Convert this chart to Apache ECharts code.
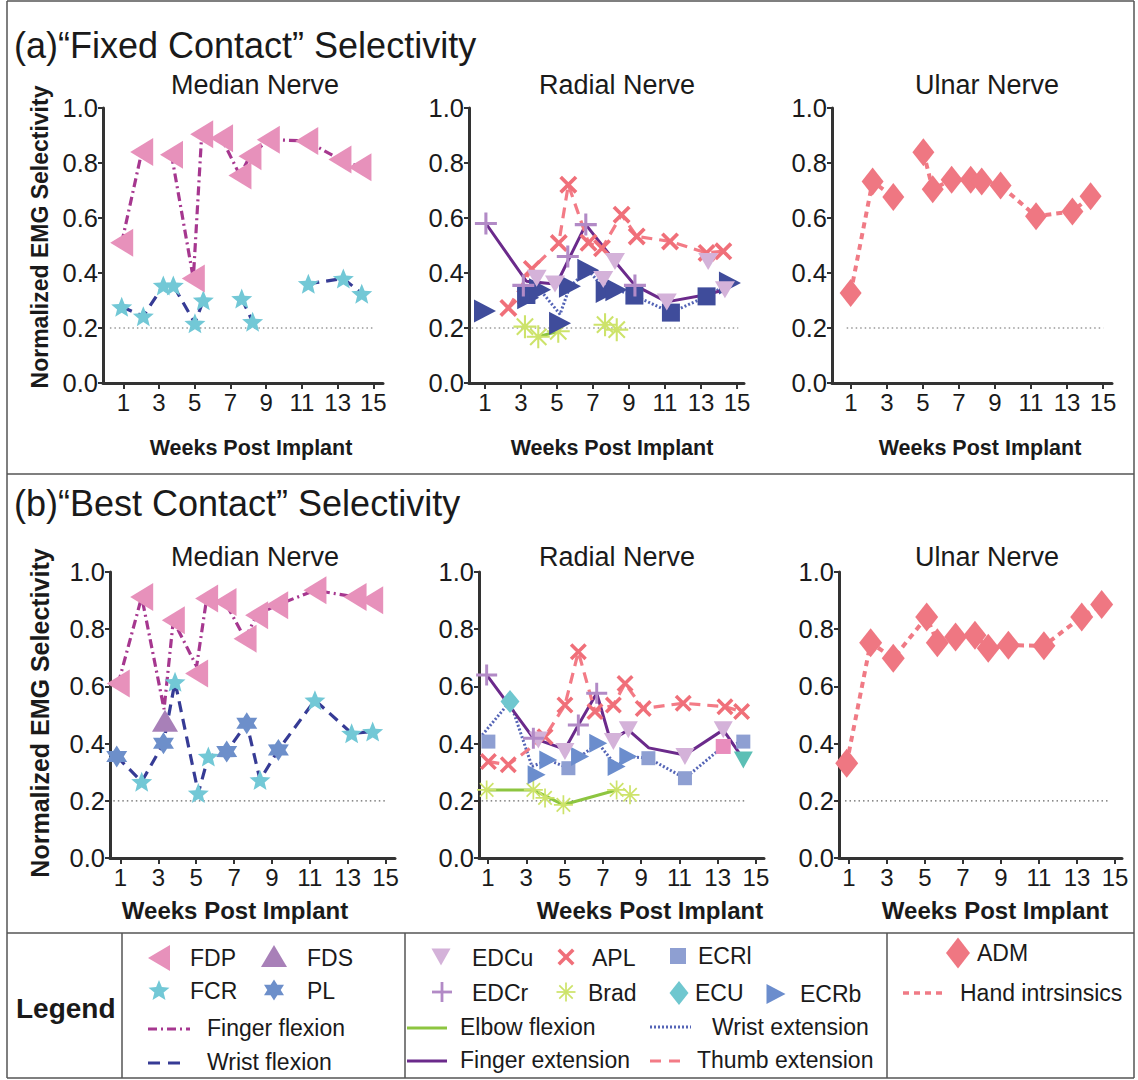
<!DOCTYPE html>
<html><head><meta charset="utf-8">
<script src="https://cdn.jsdelivr.net/npm/echarts@6/dist/echarts.min.js"></script>
<style>html,body{margin:0;padding:0;background:#fff}#c{width:1138px;height:1080px}</style>
</head><body><div id="c"></div>
<script>
// ---------- tick labels ----------
const X_TICKS = [1, 3, 5, 7, 9, 11, 13, 15];
const THRESHOLD = 0.2;

// ---------- (a) Fixed contact : Median ----------
const A_MED_FDP = [[0.91,0.51],[2.03,0.84],[3.7,0.83],[4.92,0.38],[5.39,0.905],[6.5,0.89],[7.53,0.755],[8.09,0.825],[9.12,0.885],[11.27,0.88],[13.13,0.813],[14.25,0.785]];
const A_MED_FCR = [[0.91,0.277],[2.12,0.243],[3.24,0.355],[3.8,0.355],[5.01,0.217],[5.48,0.301],[7.63,0.307],[8.24,0.223],[11.36,0.361],[13.32,0.38],[14.35,0.325]];
const A_MED_FINGER_FLEX = [[0.91,0.51],[2.03,0.84],[2.9,null],[3.7,0.83],[4.92,0.38],[5.39,0.905],[6.5,0.89],[7.53,0.755],[8.09,0.825],[9.12,0.885],[11.27,0.88],[13.13,0.813],[14.25,0.785]];
const A_MED_WRIST_FLEX = [[0.91,0.277],[2.12,0.243],[3.24,0.355],[3.8,0.355],[5.01,0.217],[5.48,0.301],[6.5,null],[7.63,0.307],[8.24,0.223],[10,null],[11.36,0.361],[13.32,0.38],[14.35,0.325]];

// ---------- (a) Fixed contact : Radial ----------
const A_RAD_EDCR = [[1.05,0.58],[3.13,0.355],[5.6,0.46],[6.6,0.576],[9.33,0.355]];
const A_RAD_EDCU = [[3.87,0.381],[4.89,0.36],[7.57,0.376],[8.22,0.442],[11.1,0.295],[13.4,0.442],[14.33,0.339]];
const A_RAD_APL  = [[2.3,0.273],[3.6,0.415],[5.1,0.509],[5.63,0.721],[6.75,0.51],[7.5,0.49],[8.59,0.612],[9.43,0.533],[11.28,0.515],[13.31,0.473],[14.24,0.479]];
const A_RAD_ECRB = [[1.0,0.262],[3.4,0.31],[4.06,0.339],[5.17,0.217],[5.72,0.352],[6.74,0.41],[7.76,0.333],[8.3,0.339],[14.61,0.364]];
const A_RAD_ECRL = [[3.3,0.32],[9.3,0.318],[11.33,0.256],[13.31,0.315]];
const A_RAD_BRAD = [[3.22,0.205],[3.96,0.168],[5.07,0.188],[7.67,0.212],[8.32,0.194]];
const A_RAD_FINGER_EXT = [[1.05,0.58],[3.3,0.37],[4.89,0.36],[5.2,0.39],[6.6,0.576],[8.22,0.442],[9.33,0.355],[11.1,0.295],[13.2,0.32],[14.33,0.339]];
const A_RAD_WRIST_EXT = [[3.4,0.31],[4.06,0.339],[5.17,0.25],[5.72,0.352],[6.74,0.41],[7.76,0.333],[8.3,0.339],[9.3,0.318],[11.33,0.256],[13.31,0.315],[14.61,0.364]];
const A_RAD_ELBOW_FLEX = [[3.96,0.168],[5.07,0.188]];
const A_RAD_THUMB_EXT = A_RAD_APL;

// ---------- (a) Fixed contact : Ulnar ----------
const A_ULN_ADM = [[0.98,0.327],[2.2,0.733],[3.35,0.676],[5.02,0.839],[5.54,0.705],[6.59,0.739],[7.65,0.739],[8.26,0.733],[9.31,0.718],[11.28,0.606],[13.3,0.624],[14.31,0.679]];
const A_ULN_HAND = [[0.98,0.327],[2.2,0.733],[3.35,0.676],[4.2,null],[5.02,0.839],[5.54,0.705],[6.59,0.739],[7.65,0.739],[8.26,0.733],[9.31,0.718],[11.28,0.606],[13.3,0.624],[14.31,0.679]];

// ---------- (b) Best contact : Median ----------
const B_MED_FDP = [[0.88,0.61],[2.12,0.913],[3.79,0.831],[5.02,0.645],[5.55,0.907],[6.52,0.895],[7.58,0.767],[8.19,0.849],[9.25,0.884],[11.27,0.936],[13.39,0.913],[14.27,0.901]];
const B_MED_FDS = [[3.35,0.48]];
const B_MED_FCR = [[2.12,0.267],[3.88,0.616],[5.11,0.227],[5.64,0.355],[8.37,0.273],[11.27,0.552],[13.21,0.436],[14.32,0.442]];
const B_MED_PL  = [[0.8,0.355],[3.27,0.401],[6.61,0.372],[7.67,0.471],[9.34,0.378]];
const B_MED_FINGER_FLEX = [[0.88,0.61],[2.12,0.913],[3.3,0.52],[3.79,0.831],[5.02,0.67],[5.55,0.907],[6.52,0.895],[7.58,0.767],[8.19,0.849],[9.25,0.884],[11.27,0.936],[13.39,0.913],[14.27,0.901]];
const B_MED_WRIST_FLEX = [[0.8,0.355],[2.12,0.267],[3.27,0.401],[3.88,0.616],[5.11,0.227],[5.64,0.355],[6.61,0.372],[7.67,0.471],[8.37,0.273],[9.34,0.378],[11.27,0.552],[13.21,0.436],[14.32,0.442]];

// ---------- (b) Best contact : Radial ----------
const B_RAD_EDCR = [[0.93,0.64],[3.37,0.419],[5.72,0.465],[6.68,0.576]];
const B_RAD_EDCU = [[3.63,0.413],[5.02,0.372],[7.55,0.407],[8.33,0.448],[11.29,0.355],[13.29,0.448]];
const B_RAD_APL  = [[1.02,0.337],[2.06,0.326],[3.98,0.424],[5.02,0.535],[5.72,0.721],[6.59,0.512],[7.55,0.535],[8.16,0.61],[9.11,0.523],[11.2,0.541],[13.38,0.529],[14.25,0.512]];
const B_RAD_ECRL = [[1.02,0.407],[5.2,0.314],[9.38,0.349],[11.29,0.279],[14.34,0.407]];
const B_RAD_ECRB = [[3.54,0.291],[4.15,0.343],[5.81,0.355],[6.76,0.401],[7.72,0.32],[8.33,0.355]];
const B_RAD_ECU  = [[2.15,0.547]];
const B_RAD_BRAD = [[0.93,0.238],[3.37,0.238],[3.98,0.21],[4.94,0.186],[7.72,0.238],[8.42,0.221]];
const B_RAD_TEAL_TRI = [[14.34,0.343]];
const B_RAD_PINK_SQ  = [[13.29,0.39]];
const B_RAD_ELBOW_FLEX = [[0.93,0.238],[3.37,0.238],[4.94,0.186],[7.72,0.238]];
const B_RAD_FINGER_EXT = [[0.93,0.64],[3.37,0.419],[5.02,0.38],[5.72,0.465],[6.68,0.576],[7.4,0.41],[8.33,0.448],[9.4,0.385],[11.29,0.36],[13.29,0.448],[14.2,0.36]];
const B_RAD_WRIST_EXT = [[0.7,0.43],[2.15,0.547],[3.3,0.32],[4.15,0.343],[5.2,0.314],[5.81,0.355],[6.76,0.401],[7.72,0.32],[8.33,0.355],[9.38,0.349],[11.29,0.279],[13.29,0.39],[14.34,0.407]];
const B_RAD_THUMB_EXT = B_RAD_APL;

// ---------- (b) Best contact : Ulnar ----------
const B_ULN_ADM = [[0.88,0.331],[2.14,0.753],[3.33,0.698],[5.09,0.843],[5.65,0.753],[6.61,0.773],[7.63,0.779],[8.33,0.733],[9.39,0.744],[11.26,0.742],[13.25,0.843],[14.3,0.886]];
const B_ULN_HAND = B_ULN_ADM;

// ---------- styling ----------
const FONT = "'Liberation Sans', Arial, Helvetica, sans-serif";
const C = {
  FDP:'#e791bb', FINGER_FLEX:'#a6378f', FCR:'#72c8d6', PL:'#6d8fca', WRIST_FLEX:'#363b95', FDS:'#a880b8',
  EDCU:'#d4b2d9', EDCR:'#b28ac6', APL:'#f06f79', ECRL:'#8e9fd2', ECRB:'#6b8dcd', ECR_DARK:'#3f4c9b',
  BRAD:'#cde36a', ECU:'#6fc7cf', ELBOW:'#8dc540', FINGER_EXT:'#6b2a8b', WRIST_EXT:'#5464b6', THUMB:'#f37b86',
  ADM:'#ef7782', HAND:'#f07a85', TEAL:'#5cbfb5', PINK:'#e98cbc'
};

// shapes as lists of polygons in a 0..100 box
function starPts(n, ro, ri){
  const pts = [];
  for (let k = 0; k < 2*n; k++){ const r = k % 2 ? ri : ro; const a = -Math.PI/2 + k*Math.PI/n; pts.push([50 + r*Math.cos(a), 50 + r*Math.sin(a)]); }
  return pts;
}
function bars(anglesDeg, R, t){
  return anglesDeg.map(deg => {
    const a = deg*Math.PI/180, dx = Math.cos(a), dy = Math.sin(a), nx = -dy, ny = dx;
    return [[50+R*dx+t*nx,50+R*dy+t*ny],[50+R*dx-t*nx,50+R*dy-t*ny],[50-R*dx-t*nx,50-R*dy-t*ny],[50-R*dx+t*nx,50-R*dy+t*ny]];
  });
}
const SHAPES = {
  LEFT:[[[0,50],[100,0],[100,100]]], RIGHT:[[[100,50],[0,0],[0,100]]], DOWN:[[[0,0],[100,0],[50,100]]], UP:[[[50,0],[100,100],[0,100]]],
  DIAMOND:[[[50,0],[100,50],[50,100],[0,50]]], SQUARE:[[[0,0],[100,0],[100,100],[0,100]]],
  STAR5:[starPts(5, 50, 22)], STAR6:[starPts(6, 50, 29)],
  PLUS:bars([0,90], 50, 7), CROSS:bars([45,135], 50, 8.5), AST:bars([0,45,90,135], 50, 4.5)
};
function bbox(key){
  let x0=1e9,y0=1e9,x1=-1e9,y1=-1e9;
  SHAPES[key].forEach(poly => poly.forEach(([x,y]) => { x0=Math.min(x0,x); y0=Math.min(y0,y); x1=Math.max(x1,x); y1=Math.max(y1,y); }));
  return [x0,y0,x1,y1];
}
const sym = k => 'path://' + SHAPES[k].map(poly => 'M' + poly.map(p => p[0].toFixed(2)+','+p[1].toFixed(2)).join('L') + 'Z').join('');

// ---------- panels (layout) ----------
const PANELS = [
  {left:103, top:108, width:280, height:275, min:-0.137, max:15.54, th:[0.25,15.0]},
  {left:469, top:108, width:275, height:275, min:0.111,  max:15.39, th:[0.26,15.07]},
  {left:832, top:108, width:280, height:275, min:-0.056, max:15.5,  th:[0.76,15.02]},
  {left:110, top:572, width:285, height:286, min:0.445,  max:15.5,  th:[0.62,14.97]},
  {left:479, top:572, width:285, height:286, min:0.53,   max:15.42, th:[0.67,14.43]},
  {left:839, top:572, width:283, height:286, min:0.474,  max:15.37, th:[0.79,14.74]}
];

const AXC = '#333';
const grids = PANELS.map(p => ({left:p.left, top:p.top, width:p.width, height:p.height, containLabel:false}));
const xAxes = PANELS.map((p,i) => ({
  gridIndex:i, type:'value', min:p.min, max:p.max,
  axisLine:{show:true, onZero:false, lineStyle:{color:AXC, width:3}},
  axisTick:{show:true, customValues:X_TICKS, length:6, lineStyle:{color:AXC, width:2}},
  axisLabel:{show:true, customValues:X_TICKS, fontSize:24, color:'#1a1a1a', fontFamily:FONT, margin:7},
  splitLine:{show:false}
}));
const yAxes = PANELS.map((p,i) => ({
  gridIndex:i, type:'value', min:0, max:1, interval:0.2,
  axisLine:{show:true, onZero:false, lineStyle:{color:AXC, width:3}},
  axisTick:{show:true, length:5, lineStyle:{color:AXC, width:2}},
  axisLabel:{show:true, fontSize:25.5, color:'#1a1a1a', fontFamily:FONT, margin:5, formatter:v => v.toFixed(1)},
  splitLine:{show:false}
}));

const series = [];
function sc(gi, name, data, symKey, size, color){
  series.push({type:'scatter', name, xAxisIndex:gi, yAxisIndex:gi, data, symbol:sym(symKey), symbolSize:size,
    itemStyle:{color, opacity:1}, z:3, silent:true});
}
function ln(gi, name, data, color, width, type){
  series.push({type:'line', name, xAxisIndex:gi, yAxisIndex:gi, data, showSymbol:false, symbol:'none', connectNulls:false,
    lineStyle:{color, width, type, cap:'butt'}, z:2, silent:true});
}
PANELS.forEach((p,i) => ln(i, 'threshold', [[p.th[0], THRESHOLD],[p.th[1], THRESHOLD]], '#666', 1.2, [1.5,3]));

const DASHDOT = [9,4,2,4], DASH = [11,7], DOT = [2,2], SDASH = [6,5];
// (a) median
ln(0,'Wrist flexion',A_MED_WRIST_FLEX,C.WRIST_FLEX,3.2,DASH);
ln(0,'Finger flexion',A_MED_FINGER_FLEX,C.FINGER_FLEX,3.2,DASHDOT);
sc(0,'FCR',A_MED_FCR,'STAR5',[21,20],C.FCR);
sc(0,'FDP',A_MED_FDP,'LEFT',[23,28],C.FDP);
// (a) radial
ln(1,'Elbow flexion',A_RAD_ELBOW_FLEX,C.ELBOW,3,'solid');
ln(1,'Wrist extension',A_RAD_WRIST_EXT,C.WRIST_EXT,3,DOT);
ln(1,'Finger extension',A_RAD_FINGER_EXT,C.FINGER_EXT,3,'solid');
ln(1,'Thumb extension',A_RAD_THUMB_EXT,C.THUMB,3.2,DASH);
sc(1,'Brad',A_RAD_BRAD,'AST',[23,23],C.BRAD);
sc(1,'ECRl',A_RAD_ECRL,'SQUARE',[18,18],C.ECR_DARK);
sc(1,'ECRb',A_RAD_ECRB,'RIGHT',[22,23],C.ECR_DARK);
sc(1,'APL',A_RAD_APL,'CROSS',[18,18],C.APL);
sc(1,'EDCu',A_RAD_EDCU,'DOWN',[20,17],C.EDCU);
sc(1,'EDCr',A_RAD_EDCR,'PLUS',[22,22],C.EDCR);
// (a) ulnar
ln(2,'Hand intrsinsics',A_ULN_HAND,C.HAND,4,SDASH);
sc(2,'ADM',A_ULN_ADM,'DIAMOND',[22,28],C.ADM);
// (b) median
ln(3,'Wrist flexion',B_MED_WRIST_FLEX,C.WRIST_FLEX,3.2,DASH);
ln(3,'Finger flexion',B_MED_FINGER_FLEX,C.FINGER_FLEX,3.2,DASHDOT);
sc(3,'FCR',B_MED_FCR,'STAR5',[21,20],C.FCR);
sc(3,'PL',B_MED_PL,'STAR6',[21,22],C.PL);
sc(3,'FDP',B_MED_FDP,'LEFT',[23,28],C.FDP);
sc(3,'FDS',B_MED_FDS,'UP',[26,22],C.FDS);
// (b) radial
ln(4,'Elbow flexion',B_RAD_ELBOW_FLEX,C.ELBOW,3,'solid');
ln(4,'Wrist extension',B_RAD_WRIST_EXT,C.WRIST_EXT,3,DOT);
ln(4,'Finger extension',B_RAD_FINGER_EXT,C.FINGER_EXT,3,'solid');
ln(4,'Thumb extension',B_RAD_THUMB_EXT,C.THUMB,3.2,DASH);
sc(4,'Brad',B_RAD_BRAD,'AST',[19,19],C.BRAD);
sc(4,'ECRl',B_RAD_ECRL,'SQUARE',[14,14],C.ECRL);
sc(4,'ECRb',B_RAD_ECRB,'RIGHT',[18,19],C.ECRB);
sc(4,'ECU',B_RAD_ECU,'DIAMOND',[19,23],C.ECU);
sc(4,'other',B_RAD_PINK_SQ,'SQUARE',[15,15],C.PINK);
sc(4,'APL',B_RAD_APL,'CROSS',[17,17],C.APL);
sc(4,'EDCu',B_RAD_EDCU,'DOWN',[19,17],C.EDCU);
sc(4,'other',B_RAD_TEAL_TRI,'DOWN',[19,17],C.TEAL);
sc(4,'EDCr',B_RAD_EDCR,'PLUS',[21,21],C.EDCR);
// (b) ulnar
ln(5,'Hand intrsinsics',B_ULN_HAND,C.HAND,4,SDASH);
sc(5,'ADM',B_ULN_ADM,'DIAMOND',[23,29],C.ADM);

// ---------- graphic: frame, titles, legend ----------
const G = [];
const TXT = '#1a1a1a';
function txt(x, y, text, size, o = {}){
  G.push({type:'text', x, y, rotation:o.rot || 0, z:10, silent:true,
    style:{text, font:(o.bold ? 'bold ' : '') + size + 'px ' + FONT, fill:TXT,
      textAlign:o.align || 'left', textVerticalAlign:'middle', align:o.align || 'left', verticalAlign:'middle'}});
}
function hline(x1, y1, x2, y2, stroke, w, dash){
  G.push({type:'line', z:10, silent:true, shape:{x1, y1, x2, y2}, style:{stroke, lineWidth:w, lineDash:dash || null}});
}
function icon(key, cx, cy, w, h, color){
  const [x0,y0,x1,y1] = bbox(key);
  const sx = w/(x1-x0), sy = h/(y1-y0);
  SHAPES[key].forEach(poly => {
    G.push({type:'polygon', z:10, silent:true,
      shape:{points: poly.map(([x,y]) => [cx - w/2 + (x-x0)*sx, cy - h/2 + (y-y0)*sy])}, style:{fill:color}});
  });
}
// frame
const FR = '#555';
hline(7, 1, 7, 1078, FR, 1.5); hline(1134, 1, 1134, 1078, FR, 1.5);
hline(7, 1, 1134, 1, FR, 1.5); hline(7, 1078, 1134, 1078, FR, 1.5);
hline(7, 474, 1134, 474, FR, 1.5); hline(7, 933, 1134, 933, FR, 1.5);
hline(122, 933, 122, 1078, FR, 1.5); hline(405, 933, 405, 1078, FR, 1.5); hline(887, 933, 887, 1078, FR, 1.5);

// titles
txt(14, 45, '(a)“Fixed Contact” Selectivity', 36);
txt(14, 503, '(b)“Best Contact” Selectivity', 36);
[[255,'Median Nerve'],[617,'Radial Nerve'],[987,'Ulnar Nerve']].forEach(([x,t]) => { txt(x, 85, t, 27, {align:'center'}); txt(x, 557, t, 27, {align:'center'}); });
txt(40, 237, 'Normalized EMG Selectivity', 23, {bold:true, rot:Math.PI/2, align:'center'});
txt(40, 713, 'Normalized EMG Selectivity', 25, {bold:true, rot:Math.PI/2, align:'center'});
[251, 612, 980].forEach(x => txt(x, 448, 'Weeks Post Implant', 21.5, {bold:true, align:'center'}));
[235, 650, 995].forEach(x => txt(x, 910, 'Weeks Post Implant', 24, {bold:true, align:'center'}));

// legend
txt(16, 1008, 'Legend', 28, {bold:true});
const LF = 23;
icon('LEFT', 159, 958, 22, 26, C.FDP); txt(190, 958, 'FDP', LF);
icon('UP', 274, 956, 26, 22, C.FDS); txt(307, 958, 'FDS', LF);
icon('STAR5', 159, 990, 21, 20, C.FCR); txt(190, 991, 'FCR', LF);
icon('STAR6', 274, 990, 20, 21, C.PL); txt(307, 991, 'PL', LF);
hline(148, 1029, 190, 1029, C.FINGER_FLEX, 3, DASHDOT); txt(207, 1028, 'Finger flexion', LF);
hline(148, 1063, 188, 1063, C.WRIST_FLEX, 3, [12,8]); txt(207, 1062, 'Wrist flexion', LF);

icon('DOWN', 441, 957, 19, 17, C.EDCU); txt(472, 958, 'EDCu', LF);
icon('CROSS', 566, 957, 17, 17, C.APL); txt(592, 958, 'APL', LF);
icon('SQUARE', 678, 956, 16, 16, C.ECRL); txt(698, 956, 'ECRl', LF);
icon('PLUS', 442, 992, 20, 20, C.EDCR); txt(472, 993, 'EDCr', LF);
icon('AST', 566, 992, 19, 19, C.BRAD); txt(588, 993, 'Brad', LF);
icon('DIAMOND', 679, 993, 19, 24, C.ECU); txt(695, 993, 'ECU', LF);
icon('RIGHT', 776, 994, 19, 20, C.ECRB); txt(800, 994, 'ECRb', LF);
hline(407, 1028, 447, 1028, C.ELBOW, 3); txt(460, 1027, 'Elbow flexion', LF);
hline(650, 1027, 691, 1027, C.WRIST_EXT, 3, [2,2]); txt(712, 1027, 'Wrist extension', LF);
hline(407, 1061, 447, 1061, C.FINGER_EXT, 3); txt(460, 1060, 'Finger extension', LF);
hline(650, 1061, 686, 1061, C.THUMB, 3, [11,8]); txt(697, 1060, 'Thumb extension', LF);

icon('DIAMOND', 958, 953, 24, 31, C.ADM); txt(977, 953, 'ADM', LF);
hline(903, 993, 943, 993, C.HAND, 3.5, [6,5]); txt(960, 993, 'Hand intrsinsics', LF);

const chart = echarts.init(document.getElementById('c'), null, {renderer:'svg', width:1138, height:1080});
chart.setOption({
  animation:false, backgroundColor:'#ffffff',
  textStyle:{fontFamily:FONT},
  grid:grids, xAxis:xAxes, yAxis:yAxes, series, graphic:{elements:G}
});
</script></body></html>
